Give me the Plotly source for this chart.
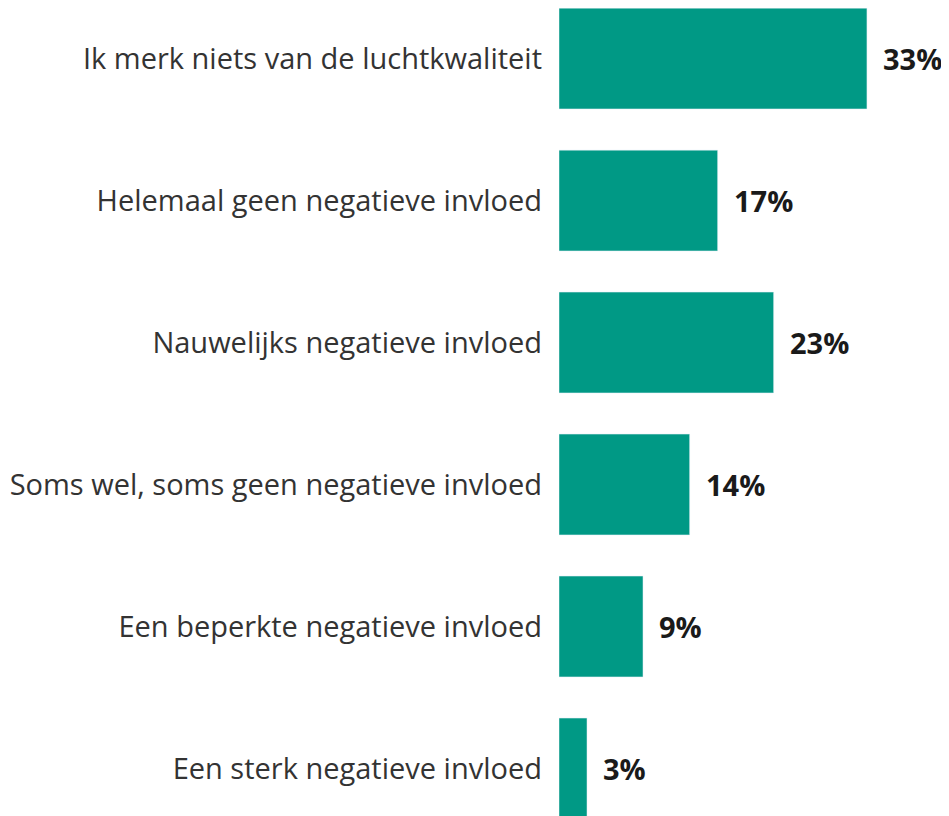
import plotly.graph_objects as go

categories = [
    'Ik merk niets van de luchtkwaliteit',
    'Helemaal geen negatieve invloed',
    'Nauwelijks negatieve invloed',
    'Soms wel, soms geen negatieve invloed',
    'Een beperkte negatieve invloed',
    'Een sterk negatieve invloed',
]
values = [33, 17, 23, 14, 9, 3]
value_labels = ['33%', '17%', '23%', '14%', '9%', '3%']

FONT = 'Open Sans'
BAR_COLOR = '#009985'

fig = go.Figure()
fig.add_trace(go.Bar(
    x=values,
    y=categories,
    orientation='h',
    width=0.71,
    marker_color=BAR_COLOR,
    hoverinfo='skip',
))

# percentage labels next to each bar
for cat, val, lab in zip(categories, values, value_labels):
    fig.add_annotation(
        x=val, y=cat, text='<b>' + lab + '</b>',
        xanchor='left', yanchor='middle', xshift=14, showarrow=False,
        font=dict(family=FONT, size=29, color='#1a1a1a'),
    )

# page body has an 8px margin, so everything is nudged up/left by 8px
fig.update_layout(
    width=949, height=816,
    margin=dict(l=551, r=0, t=0, b=0),
    paper_bgcolor='white', plot_bgcolor='white',
    showlegend=False,
    font=dict(family=FONT, size=29, color='#333333'),
)
fig.update_xaxes(range=[0, 42.65], visible=False)
fig.update_yaxes(
    categoryorder='array', categoryarray=categories,
    range=[5.391, -0.356],
    showgrid=False, zeroline=False, showline=False,
    ticks='', ticklabelstandoff=16,
    tickfont=dict(family=FONT, size=29, color='#333333'),
)

fig.write_html('out.html')
